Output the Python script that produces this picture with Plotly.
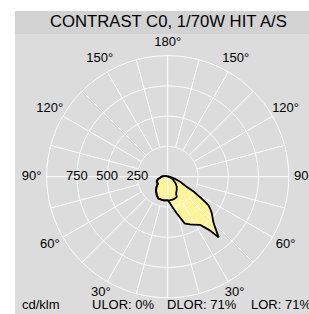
import numpy as np
import plotly.graph_objects as go

# ---- data (cd/klm) ----
# C0 plane (right side), gamma in degrees from nadir
gamma_c0 = [0, 5, 10, 14, 20, 25, 28, 34, 38, 40, 42, 45, 50, 52, 55, 57, 60, 62, 68, 75, 85, 95, 120, 180]
i_c0 = [195, 220, 265, 314, 410, 435, 448, 480, 560, 655, 600, 534, 477, 453, 412, 340, 250, 180, 111, 55, 20, 10, 5, 0]
# C180 plane (left side)
gamma_c180 = [0, 10, 23, 30, 40, 48, 55, 65, 75, 90, 110, 120, 180]
i_c180 = [195, 198, 196, 180, 150, 124, 100, 100, 85, 50, 18, 10, 0]
# C90 plane (right side)
gamma_c90 = [0, 6, 14, 20, 24, 26, 28, 35, 42, 50, 60, 70, 80, 90, 180]
i_c90 = [195, 195, 194, 188, 183, 160, 150, 130, 112, 85, 54, 30, 12, 3, 0]
# C270 plane (left side)
gamma_c270 = gamma_c180
i_c270 = i_c180

ring_values = [250, 500, 750, 1000]
radial_labels = ["250", "500", "750"]
angle_tickvals = [30, 60, 90, 120, 150, 180, 210, 240, 270, 300, 330]
angle_ticktext = ["30°", "60°", "90°", "120°", "150°", "180°", "150°", "120°", "90°", "60°", "30°"]
angle_label_r = [1105, 1125, 1125, 1125, 1125, 1105, 1125, 1125, 1125, 1125, 1105]
title_text = "CONTRAST C0, 1/70W HIT A/S"
unit_text = "cd/klm"
ulor_text = "ULOR: 0%"
dlor_text = "DLOR: 71%"
lor_text = "LOR: 71%"

FILL = "#fff39c"
GRID = "#ffffff"
BG = "#dcdcdc"
BAR = "#d2d2d2"
R_MAX = 1130

# geometry of the polar subplot (pixels)
W, H = 309, 314
CX, CY = 167.7, 176.7
R_PX = 121 * R_MAX / 1000


def curve(g_right, v_right, g_left, v_left):
    th = [-g for g in reversed(g_left)] + list(g_right)
    r = list(reversed(v_left)) + list(v_right)
    return th, r


thA, rA = curve(gamma_c0, i_c0, gamma_c180, i_c180)
thB, rB = curve(gamma_c90, i_c90, gamma_c270, i_c270)

fig = go.Figure()

# fills
for th, r in [(thA, rA), (thB, rB)]:
    fig.add_trace(go.Scatterpolar(r=r, theta=th, mode="lines", fill="toself",
                                  fillcolor=FILL, line=dict(width=0, color=FILL),
                                  hoverinfo="skip", showlegend=False))

# grid: rings
circ = np.linspace(0, 360, 361)
rr, tt = [], []
for v in ring_values:
    rr += [v] * len(circ) + [None]
    tt += list(circ) + [None]
fig.add_trace(go.Scatterpolar(r=rr, theta=tt, mode="lines", connectgaps=False,
                              line=dict(color=GRID, width=1), hoverinfo="skip", showlegend=False))
# grid: spokes
sr, st = [], []
for a in range(0, 360, 15):
    if a % 90 == 0:
        sr += [0, ring_values[-1], None]
    else:
        sr += [ring_values[0], ring_values[-1], None]
    st += [a, a, None]
fig.add_trace(go.Scatterpolar(r=sr, theta=st, mode="lines", connectgaps=False,
                              line=dict(color=GRID, width=1), hoverinfo="skip", showlegend=False))

# outlines
for th, r in [(thA, rA), (thB, rB)]:
    fig.add_trace(go.Scatterpolar(r=r, theta=th, mode="lines",
                                  line=dict(width=1.8, color="black"),
                                  hoverinfo="skip", showlegend=False))

# radial labels
fig.add_trace(go.Scatterpolar(r=ring_values[:3], theta=[270] * 3, mode="text",
                              text=radial_labels,
                              textfont=dict(family="Liberation Sans, Arial", size=13, color="black"),
                              hoverinfo="skip", showlegend=False))

# angular labels, centred on their angle just outside the outer ring
fig.add_trace(go.Scatterpolar(r=angle_label_r, theta=angle_tickvals, mode="text",
                              text=angle_ticktext, cliponaxis=False,
                              textfont=dict(family="Liberation Sans, Arial", size=13, color="black"),
                              hoverinfo="skip", showlegend=False))

fig.update_layout(
    width=W, height=H,
    margin=dict(l=0, r=0, t=0, b=0),
    paper_bgcolor="white",
    font=dict(family="Liberation Sans, Arial", size=13, color="black"),
    polar=dict(
        domain=dict(x=[(CX - R_PX) / W, (CX + R_PX) / W],
                    y=[(H - CY - R_PX) / H, (H - CY + R_PX) / H]),
        bgcolor="rgba(0,0,0,0)",
        radialaxis=dict(range=[0, R_MAX], showgrid=False, showline=False,
                        showticklabels=False, ticks=""),
        angularaxis=dict(rotation=-90, direction="counterclockwise",
                         showgrid=False, showline=False, ticks="",
                         showticklabels=False),
    ),
    shapes=[
        dict(type="rect", xref="paper", yref="paper", x0=15 / W, x1=1, y0=0, y1=1 - 11 / H,
             fillcolor=BG, line=dict(width=0), layer="below"),
        dict(type="rect", xref="paper", yref="paper", x0=15 / W, x1=1, y0=1 - 34 / H, y1=1 - 11 / H,
             fillcolor=BAR, line=dict(width=0), layer="below"),
    ],
    annotations=[
        dict(text=title_text, xref="paper", yref="paper", x=168 / W, y=1 - 22 / H,
             xanchor="center", yanchor="middle", showarrow=False, font=dict(size=16.7)),
        dict(text=unit_text, xref="paper", yref="paper", x=20 / W, y=1 - 304 / H,
             xanchor="left", yanchor="middle", showarrow=False, font=dict(size=13)),
        dict(text=ulor_text, xref="paper", yref="paper", x=90 / W, y=1 - 304 / H,
             xanchor="left", yanchor="middle", showarrow=False, font=dict(size=13)),
        dict(text=dlor_text, xref="paper", yref="paper", x=165 / W, y=1 - 304 / H,
             xanchor="left", yanchor="middle", showarrow=False, font=dict(size=13)),
        dict(text=lor_text, xref="paper", yref="paper", x=249 / W, y=1 - 304 / H,
             xanchor="left", yanchor="middle", showarrow=False, font=dict(size=13)),
    ],
)

fig.write_html("out.html", config={"displayModeBar": False},
               post_script="document.body.style.margin='0';document.body.style.overflow='hidden';")
